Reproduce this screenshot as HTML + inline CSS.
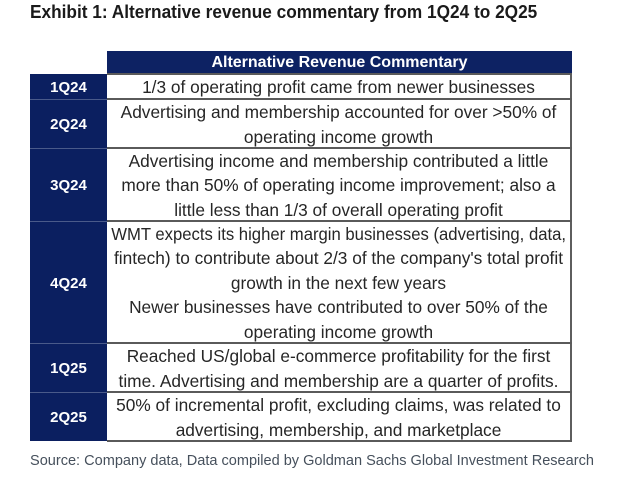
<!DOCTYPE html>
<html>
<head>
<meta charset="utf-8">
<style>
  html,body{margin:0;padding:0;background:#fff;}
  body{width:620px;height:493px;position:relative;overflow:hidden;font-family:"Liberation Sans",Arial,sans-serif;}
  .title{position:absolute;left:30px;top:3px;font-size:18px;line-height:18px;font-weight:bold;color:#1a1a1a;white-space:nowrap;transform:scaleX(0.958);transform-origin:left top;}
  .hdr{position:absolute;left:107px;top:51px;width:465px;height:23px;background:#0d2263;color:#fff;font-weight:bold;font-size:16px;display:flex;align-items:center;justify-content:center;padding-top:1px;box-sizing:border-box;}
  .lab{position:absolute;left:30px;width:77px;background:#0b1f60;color:#fff;font-weight:bold;font-size:15px;display:flex;align-items:center;justify-content:center;padding-top:2px;box-sizing:border-box;}
  .cell{position:absolute;left:107px;width:465px;box-sizing:border-box;border-right:2px solid #5e5e5e;display:flex;flex-direction:column;align-items:center;justify-content:center;padding-top:2px;color:#262626;font-size:17.3px;line-height:24.4px;}
  .cell div{white-space:nowrap;}
  .hl{position:absolute;left:107px;width:465px;height:2px;background:#5a5a5a;}
  .ll{position:absolute;left:30px;width:77px;height:1px;background:#4a5a8a;}
  .src{position:absolute;left:30px;top:453px;font-size:15px;line-height:15px;color:#46505c;white-space:nowrap;transform:scaleX(0.969);transform-origin:left top;}
</style>
</head>
<body>
<div class="title">Exhibit 1: Alternative revenue commentary from 1Q24 to 2Q25</div>

<div class="hdr">Alternative Revenue Commentary</div>

<div class="lab" style="top:74px;height:25px;">1Q24</div>
<div class="lab" style="top:99px;height:49px;">2Q24</div>
<div class="lab" style="top:148px;height:73px;">3Q24</div>
<div class="lab" style="top:221px;height:122px;">4Q24</div>
<div class="lab" style="top:343px;height:49px;">1Q25</div>
<div class="lab" style="top:392px;height:49px;">2Q25</div>

<div class="cell" style="top:74px;height:25px;">
  <div>1/3 of operating profit came from newer businesses</div>
</div>
<div class="cell" style="top:99px;height:49px;">
  <div>Advertising and membership accounted for over &gt;50% of</div>
  <div>operating income growth</div>
</div>
<div class="cell" style="top:148px;height:73px;">
  <div>Advertising income and membership contributed a little</div>
  <div>more than 50% of operating income improvement; also a</div>
  <div>little less than 1/3 of overall operating profit</div>
</div>
<div class="cell" style="top:221px;height:122px;">
  <div style="transform:scaleX(0.965);">WMT expects its higher margin businesses (advertising, data,</div>
  <div>fintech) to contribute about 2/3 of the company's total profit</div>
  <div>growth in the next few years</div>
  <div>Newer businesses have contributed to over 50% of the</div>
  <div>operating income growth</div>
</div>
<div class="cell" style="top:343px;height:49px;">
  <div>Reached US/global e-commerce profitability for the first</div>
  <div>time. Advertising and membership are a quarter of profits.</div>
</div>
<div class="cell" style="top:392px;height:49px;">
  <div>50% of incremental profit, excluding claims, was related to</div>
  <div>advertising, membership, and marketplace</div>
</div>

<div class="hl" style="top:73px;"></div>
<div class="hl" style="top:98px;"></div>
<div class="hl" style="top:147px;"></div>
<div class="hl" style="top:220px;"></div>
<div class="hl" style="top:342px;"></div>
<div class="hl" style="top:391px;"></div>
<div class="hl" style="top:440px;"></div>

<div class="ll" style="top:99px;"></div>
<div class="ll" style="top:148px;"></div>
<div class="ll" style="top:221px;"></div>
<div class="ll" style="top:343px;"></div>
<div class="ll" style="top:392px;"></div>

<div class="src">Source: Company data, Data compiled by Goldman Sachs Global Investment Research</div>
</body>
</html>
